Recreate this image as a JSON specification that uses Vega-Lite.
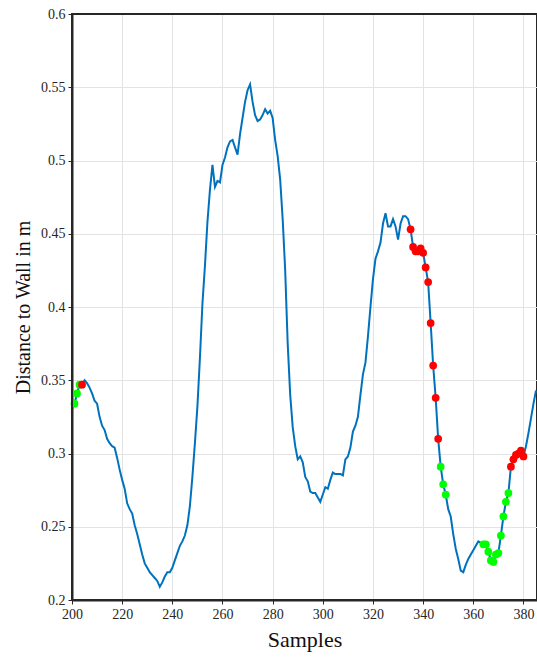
{
  "$schema": "https://vega.github.io/schema/vega-lite/v6.json",
  "width": 465,
  "height": 586,
  "autosize": "none",
  "padding": {"left": 72, "top": 14, "right": 0, "bottom": 57},
  "background": "white",
  "config": {
    "font": "Liberation Serif",
    "view": {"stroke": "#262626", "strokeWidth": 2},
    "axis": {
      "domainColor": "#262626",
      "domainWidth": 2,
      "tickColor": "#262626",
      "tickWidth": 1,
      "tickSize": 4,
      "labelFlush": false,
      "gridColor": "#e3e3e3",
      "gridWidth": 1,
      "labelFont": "Liberation Serif",
      "labelFontSize": 14,
      "labelColor": "#262626",
      "titleFont": "Liberation Serif",
      "titleFontWeight": "normal",
      "titleColor": "#111111"
    }
  },
  "data": {"values": [
      {"sample":200,"dist":0.330,"marker":"none"},{"sample":201,"dist":0.334,"marker":"green"},{"sample":202,"dist":0.341,"marker":"green"},{"sample":203,"dist":0.347,"marker":"green"},{"sample":204,"dist":0.347,"marker":"red"},
      {"sample":205,"dist":0.350,"marker":"none"},{"sample":206,"dist":0.348,"marker":"none"},{"sample":207,"dist":0.345,"marker":"none"},{"sample":208,"dist":0.341,"marker":"none"},{"sample":209,"dist":0.336,"marker":"none"},
      {"sample":210,"dist":0.334,"marker":"none"},{"sample":211,"dist":0.325,"marker":"none"},{"sample":212,"dist":0.319,"marker":"none"},{"sample":213,"dist":0.316,"marker":"none"},{"sample":214,"dist":0.310,"marker":"none"},
      {"sample":215,"dist":0.307,"marker":"none"},{"sample":216,"dist":0.305,"marker":"none"},{"sample":217,"dist":0.304,"marker":"none"},{"sample":218,"dist":0.297,"marker":"none"},{"sample":219,"dist":0.289,"marker":"none"},
      {"sample":220,"dist":0.282,"marker":"none"},{"sample":221,"dist":0.276,"marker":"none"},{"sample":222,"dist":0.266,"marker":"none"},{"sample":223,"dist":0.262,"marker":"none"},{"sample":224,"dist":0.259,"marker":"none"},
      {"sample":225,"dist":0.251,"marker":"none"},{"sample":226,"dist":0.245,"marker":"none"},{"sample":227,"dist":0.238,"marker":"none"},{"sample":228,"dist":0.231,"marker":"none"},{"sample":229,"dist":0.225,"marker":"none"},
      {"sample":230,"dist":0.222,"marker":"none"},{"sample":231,"dist":0.219,"marker":"none"},{"sample":232,"dist":0.217,"marker":"none"},{"sample":233,"dist":0.215,"marker":"none"},{"sample":234,"dist":0.213,"marker":"none"},
      {"sample":235,"dist":0.209,"marker":"none"},{"sample":236,"dist":0.212,"marker":"none"},{"sample":237,"dist":0.216,"marker":"none"},{"sample":238,"dist":0.219,"marker":"none"},{"sample":239,"dist":0.219,"marker":"none"},
      {"sample":240,"dist":0.222,"marker":"none"},{"sample":241,"dist":0.227,"marker":"none"},{"sample":242,"dist":0.232,"marker":"none"},{"sample":243,"dist":0.237,"marker":"none"},{"sample":244,"dist":0.240,"marker":"none"},
      {"sample":245,"dist":0.244,"marker":"none"},{"sample":246,"dist":0.251,"marker":"none"},{"sample":247,"dist":0.264,"marker":"none"},{"sample":248,"dist":0.284,"marker":"none"},{"sample":249,"dist":0.307,"marker":"none"},
      {"sample":250,"dist":0.332,"marker":"none"},{"sample":251,"dist":0.365,"marker":"none"},{"sample":252,"dist":0.402,"marker":"none"},{"sample":253,"dist":0.428,"marker":"none"},{"sample":254,"dist":0.458,"marker":"none"},
      {"sample":255,"dist":0.480,"marker":"none"},{"sample":256,"dist":0.497,"marker":"none"},{"sample":257,"dist":0.482,"marker":"none"},{"sample":258,"dist":0.486,"marker":"none"},{"sample":259,"dist":0.485,"marker":"none"},
      {"sample":260,"dist":0.497,"marker":"none"},{"sample":261,"dist":0.502,"marker":"none"},{"sample":262,"dist":0.509,"marker":"none"},{"sample":263,"dist":0.513,"marker":"none"},{"sample":264,"dist":0.514,"marker":"none"},
      {"sample":265,"dist":0.509,"marker":"none"},{"sample":266,"dist":0.504,"marker":"none"},{"sample":267,"dist":0.518,"marker":"none"},{"sample":268,"dist":0.529,"marker":"none"},{"sample":269,"dist":0.540,"marker":"none"},
      {"sample":270,"dist":0.548,"marker":"none"},{"sample":271,"dist":0.552,"marker":"none"},{"sample":272,"dist":0.540,"marker":"none"},{"sample":273,"dist":0.531,"marker":"none"},{"sample":274,"dist":0.527,"marker":"none"},
      {"sample":275,"dist":0.528,"marker":"none"},{"sample":276,"dist":0.531,"marker":"none"},{"sample":277,"dist":0.535,"marker":"none"},{"sample":278,"dist":0.532,"marker":"none"},{"sample":279,"dist":0.534,"marker":"none"},
      {"sample":280,"dist":0.529,"marker":"none"},{"sample":281,"dist":0.514,"marker":"none"},{"sample":282,"dist":0.503,"marker":"none"},{"sample":283,"dist":0.487,"marker":"none"},{"sample":284,"dist":0.460,"marker":"none"},
      {"sample":285,"dist":0.425,"marker":"none"},{"sample":286,"dist":0.375,"marker":"none"},{"sample":287,"dist":0.340,"marker":"none"},{"sample":288,"dist":0.318,"marker":"none"},{"sample":289,"dist":0.305,"marker":"none"},
      {"sample":290,"dist":0.296,"marker":"none"},{"sample":291,"dist":0.298,"marker":"none"},{"sample":292,"dist":0.294,"marker":"none"},{"sample":293,"dist":0.284,"marker":"none"},{"sample":294,"dist":0.281,"marker":"none"},
      {"sample":295,"dist":0.274,"marker":"none"},{"sample":296,"dist":0.273,"marker":"none"},{"sample":297,"dist":0.273,"marker":"none"},{"sample":298,"dist":0.270,"marker":"none"},{"sample":299,"dist":0.267,"marker":"none"},
      {"sample":300,"dist":0.272,"marker":"none"},{"sample":301,"dist":0.277,"marker":"none"},{"sample":302,"dist":0.276,"marker":"none"},{"sample":303,"dist":0.282,"marker":"none"},{"sample":304,"dist":0.287,"marker":"none"},
      {"sample":305,"dist":0.286,"marker":"none"},{"sample":306,"dist":0.286,"marker":"none"},{"sample":307,"dist":0.286,"marker":"none"},{"sample":308,"dist":0.285,"marker":"none"},{"sample":309,"dist":0.296,"marker":"none"},
      {"sample":310,"dist":0.298,"marker":"none"},{"sample":311,"dist":0.304,"marker":"none"},{"sample":312,"dist":0.315,"marker":"none"},{"sample":313,"dist":0.319,"marker":"none"},{"sample":314,"dist":0.325,"marker":"none"},
      {"sample":315,"dist":0.340,"marker":"none"},{"sample":316,"dist":0.354,"marker":"none"},{"sample":317,"dist":0.362,"marker":"none"},{"sample":318,"dist":0.380,"marker":"none"},{"sample":319,"dist":0.400,"marker":"none"},
      {"sample":320,"dist":0.419,"marker":"none"},{"sample":321,"dist":0.433,"marker":"none"},{"sample":322,"dist":0.438,"marker":"none"},{"sample":323,"dist":0.444,"marker":"none"},{"sample":324,"dist":0.457,"marker":"none"},
      {"sample":325,"dist":0.464,"marker":"none"},{"sample":326,"dist":0.455,"marker":"none"},{"sample":327,"dist":0.455,"marker":"none"},{"sample":328,"dist":0.460,"marker":"none"},{"sample":329,"dist":0.455,"marker":"none"},
      {"sample":330,"dist":0.446,"marker":"none"},{"sample":331,"dist":0.457,"marker":"none"},{"sample":332,"dist":0.462,"marker":"none"},{"sample":333,"dist":0.462,"marker":"none"},{"sample":334,"dist":0.460,"marker":"none"},
      {"sample":335,"dist":0.453,"marker":"red"},{"sample":336,"dist":0.441,"marker":"red"},{"sample":337,"dist":0.438,"marker":"red"},{"sample":338,"dist":0.438,"marker":"red"},{"sample":339,"dist":0.440,"marker":"red"},
      {"sample":340,"dist":0.437,"marker":"red"},{"sample":341,"dist":0.427,"marker":"red"},{"sample":342,"dist":0.417,"marker":"red"},{"sample":343,"dist":0.389,"marker":"red"},{"sample":344,"dist":0.360,"marker":"red"},
      {"sample":345,"dist":0.338,"marker":"red"},{"sample":346,"dist":0.310,"marker":"red"},{"sample":347,"dist":0.291,"marker":"green"},{"sample":348,"dist":0.279,"marker":"green"},{"sample":349,"dist":0.272,"marker":"green"},
      {"sample":350,"dist":0.262,"marker":"none"},{"sample":351,"dist":0.257,"marker":"none"},{"sample":352,"dist":0.245,"marker":"none"},{"sample":353,"dist":0.235,"marker":"none"},{"sample":354,"dist":0.228,"marker":"none"},
      {"sample":355,"dist":0.220,"marker":"none"},{"sample":356,"dist":0.219,"marker":"none"},{"sample":357,"dist":0.224,"marker":"none"},{"sample":358,"dist":0.228,"marker":"none"},{"sample":359,"dist":0.231,"marker":"none"},
      {"sample":360,"dist":0.234,"marker":"none"},{"sample":361,"dist":0.237,"marker":"none"},{"sample":362,"dist":0.240,"marker":"none"},{"sample":363,"dist":0.239,"marker":"none"},{"sample":364,"dist":0.238,"marker":"green"},
      {"sample":365,"dist":0.238,"marker":"green"},{"sample":366,"dist":0.233,"marker":"green"},{"sample":367,"dist":0.227,"marker":"green"},{"sample":368,"dist":0.226,"marker":"green"},{"sample":369,"dist":0.231,"marker":"green"},
      {"sample":370,"dist":0.232,"marker":"green"},{"sample":371,"dist":0.244,"marker":"green"},{"sample":372,"dist":0.257,"marker":"green"},{"sample":373,"dist":0.267,"marker":"green"},{"sample":374,"dist":0.273,"marker":"green"},
      {"sample":375,"dist":0.291,"marker":"red"},{"sample":376,"dist":0.296,"marker":"red"},{"sample":377,"dist":0.299,"marker":"red"},{"sample":378,"dist":0.300,"marker":"red"},{"sample":379,"dist":0.302,"marker":"red"},
      {"sample":380,"dist":0.298,"marker":"red"},{"sample":381,"dist":0.305,"marker":"none"},{"sample":382,"dist":0.314,"marker":"none"},{"sample":383,"dist":0.324,"marker":"none"},{"sample":384,"dist":0.334,"marker":"none"},
      {"sample":385,"dist":0.343,"marker":"none"}
  ]},
  "layer": [
    {
      "mark": {"type": "line", "color": "#0072BD", "strokeWidth": 2},
      "encoding": {
        "x": {
          "field": "sample", "type": "quantitative",
          "scale": {"domain": [200, 385.4], "nice": false, "zero": false},
          "axis": {"values": [200,220,240,260,280,300,320,340,360,380], "format": "d", "title": "Samples", "titleFontSize": 22, "labelPadding": 3, "titlePadding": 8}
        },
        "y": {
          "field": "dist", "type": "quantitative",
          "scale": {"domain": [0.2, 0.6], "nice": false, "zero": false},
          "axis": {"values": [0.2,0.25,0.3,0.35,0.4,0.45,0.5,0.55,0.6], "format": "~g", "title": "Distance to Wall in m", "titleFontSize": 20, "labelPadding": 3, "titlePadding": 7}
        }
      }
    },
    {
      "transform": [{"filter": "datum.marker !== 'none'"}],
      "mark": {"type": "circle", "size": 60, "opacity": 1},
      "encoding": {
        "x": {"field": "sample", "type": "quantitative"},
        "y": {"field": "dist", "type": "quantitative"},
        "color": {"field": "marker", "type": "nominal", "scale": {"domain": ["green", "red"], "range": ["#00FF00", "#FF0000"]}, "legend": null}
      }
    },
    {"mark": {"type": "rule", "color": "#262626", "strokeWidth": 2}, "encoding": {"x": {"datum": 200}}},
    {"mark": {"type": "rule", "color": "#262626", "strokeWidth": 2}, "encoding": {"y": {"datum": 0.2}}},
    {"mark": {"type": "rule", "color": "#262626", "strokeWidth": 2}, "encoding": {"y": {"datum": 0.6}}}
  ]
}
